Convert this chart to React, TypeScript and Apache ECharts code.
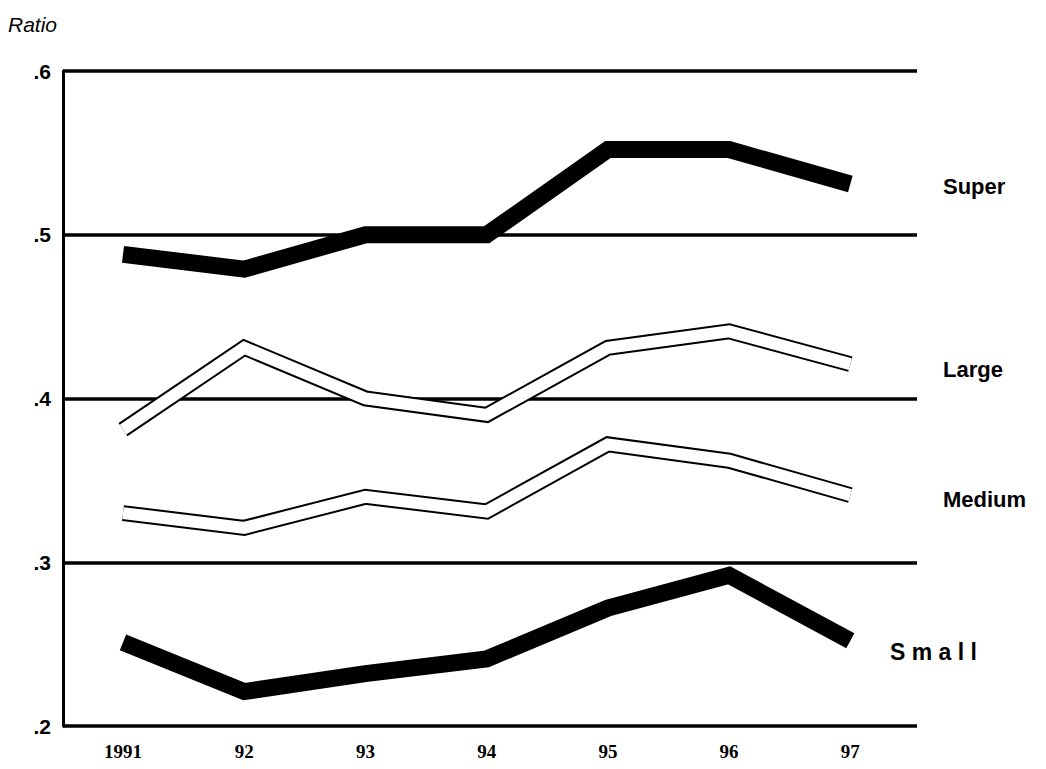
import { useEffect, useRef } from 'react';
import * as echarts from 'echarts';

const years = ['1991', '92', '93', '94', '95', '96', '97'];
const superVals = [0.488, 0.479, 0.5, 0.5, 0.552, 0.552, 0.531];
const largeVals = [0.381, 0.431, 0.4, 0.39, 0.431, 0.441, 0.421];
const mediumVals = [0.33, 0.321, 0.34, 0.331, 0.372, 0.362, 0.341];
const smallVals = [0.251, 0.221, 0.232, 0.241, 0.272, 0.292, 0.252];
const yTicks = [0.2, 0.3, 0.4, 0.5, 0.6];

const pts = (vals: number[]) => vals.map((v, i) => [i, v]);
const sans = '"Liberation Sans", Arial, sans-serif';

export default function App(): JSX.Element {
  const chartRef = useRef<HTMLDivElement>(null);

  useEffect(() => {
    if (!chartRef.current) return;
    const chart = echarts.init(chartRef.current, null, { renderer: 'svg' });

    const thick = (name: string, vals: number[]) => ({
      name,
      type: 'line',
      data: pts(vals),
      symbol: 'none',
      lineStyle: { color: '#000', width: 17, join: 'miter', cap: 'butt' },
      z: 3,
    });
    const hollow = (name: string, vals: number[]) => [
      {
        name,
        type: 'line',
        data: pts(vals),
        symbol: 'none',
        lineStyle: { color: '#000', width: 16, join: 'miter', cap: 'butt' },
        z: 3,
      },
      {
        name: name + '-inner',
        type: 'line',
        data: pts(vals),
        symbol: 'none',
        lineStyle: { color: '#fff', width: 12, join: 'miter', cap: 'butt' },
        z: 4,
      },
    ];

    const rightLabel = (text: string, x: number, y: number, bold = true, size = 22) => ({
      type: 'text',
      left: x,
      top: y - size / 2 - 1,
      style: {
        text,
        fill: '#000',
        font: `${bold ? 'bold ' : ''}${size}px ${sans}`,
      },
    });

    const option: any = {
      animation: false,
      backgroundColor: '#fff',
      grid: { left: 55, right: 121, top: 63, bottom: 34 },
      xAxis: {
        type: 'value',
        min: -0.495,
        max: 6.55,
        axisLine: { show: false },
        axisTick: { show: false },
        splitLine: { show: false },
        axisLabel: {
          customValues: years.map((_, i) => i),
          formatter: (v: number) => years[Math.round(v)] ?? '',
          color: '#000',
          fontFamily: '"Liberation Serif", "DejaVu Serif", serif',
          fontWeight: 'bold',
          fontSize: 19,
          margin: 16,
        },
      },
      yAxis: {
        type: 'value',
        min: 0.2,
        max: 0.6,
        interval: 0.1,
        axisLine: { show: true, onZero: false, lineStyle: { color: '#000', width: 3 } },
        axisTick: { show: false },
        splitLine: { show: true, lineStyle: { color: '#000', width: 3.5 } },
        axisLabel: {
          customValues: yTicks,
          formatter: (v: number) => v.toFixed(1).replace(/^0/, ''),
          color: '#000',
          fontFamily: sans,
          fontWeight: 'bold',
          fontSize: 21,
          margin: 12,
        },
      },
      graphic: [
        {
          type: 'text',
          left: 0,
          top: 6,
          style: { text: 'Ratio', fill: '#000', font: `italic 21px ${sans}` },
        },
        rightLabel('Super', 935, 179),
        rightLabel('Large', 935, 362),
        rightLabel('Medium', 935, 492),
        rightLabel('S m a l l', 882, 645, true, 23),
      ],
      series: [
        thick('Super', superVals),
        ...hollow('Large', largeVals),
        ...hollow('Medium', mediumVals),
        thick('Small', smallVals),
      ],
    };

    chart.setOption(option);
    return () => chart.dispose();
  }, []);

  return <div ref={chartRef} style={{ width: 1030, height: 753 }} />;
}
